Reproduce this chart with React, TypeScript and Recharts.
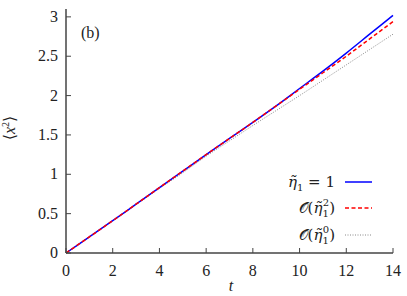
import React from "react";
import { LineChart, Line, XAxis, YAxis, Customized } from "recharts";

const tValues = [0, 1, 2, 3, 4, 5, 6, 7, 8, 9, 10, 11, 12, 13, 14];
const exactSeries = [0, 0.205, 0.41, 0.62, 0.83, 1.04, 1.25, 1.455, 1.66, 1.87, 2.09, 2.31, 2.54, 2.78, 3.02];
const secondOrderSeries = [0, 0.205, 0.41, 0.62, 0.83, 1.04, 1.25, 1.455, 1.66, 1.87, 2.08, 2.29, 2.5, 2.72, 2.94];
const zerothOrderSeries = [0, 0.205, 0.41, 0.615, 0.82, 1.02, 1.23, 1.425, 1.62, 1.81, 2.0, 2.195, 2.39, 2.585, 2.78];
const xTicks = [0, 2, 4, 6, 8, 10, 12, 14];
const yTicks = [0, 0.5, 1, 1.5, 2, 2.5, 3];

const data = tValues.map((t, i) => ({
  t,
  exact: exactSeries[i],
  second: secondOrderSeries[i],
  zeroth: zerothOrderSeries[i],
}));

const FONT = "'DejaVu Serif', 'Liberation Serif', serif";
const TFONT = "'Liberation Serif', 'DejaVu Serif', serif";
const FRAME = "#444";
const TXT = "#222";
const TL = 5;

const renderBottomTick = (p: any) => (
  <g key={`b${p.payload.value}`}>
    <line x1={p.x} x2={p.x} y1={p.y} y2={p.y - TL} stroke={FRAME} strokeWidth={1} />
    <text x={p.x} y={p.y + 23} textAnchor="middle" fontFamily={TFONT} fontSize={16} style={{ fontFamily: TFONT, fontSize: 16 }} fill={TXT}>
      {String(p.payload.value)}
    </text>
  </g>
);
const renderTopTick = (p: any) => (
  <line key={`t${p.payload.value}`} x1={p.x} x2={p.x} y1={p.y} y2={p.y + TL} stroke={FRAME} strokeWidth={1} />
);
const renderLeftTick = (p: any) => (
  <g key={`l${p.payload.value}`}>
    <line x1={p.x} x2={p.x + TL} y1={p.y} y2={p.y} stroke={FRAME} strokeWidth={1} />
    <text x={p.x - 8} y={p.y + 5} textAnchor="end" fontFamily={TFONT} fontSize={16} style={{ fontFamily: TFONT, fontSize: 16 }} fill={TXT}>
      {String(p.payload.value)}
    </text>
  </g>
);
const renderRightTick = (p: any) => (
  <line key={`r${p.payload.value}`} x1={p.x} x2={p.x - TL} y1={p.y} y2={p.y} stroke={FRAME} strokeWidth={1} />
);

const Eta = ({ sup }: { sup?: string }) => (
  <>
    <tspan fontStyle="italic">η̃</tspan>
    <tspan style={{ fontSize: 10 }} dy={4}>1</tspan>
    {sup ? (
      <tspan style={{ fontSize: 10 }} dx={-6} dy={-11}>{sup}</tspan>
    ) : null}
  </>
);

const Overlay = () => {
  const tx = 335;
  const lx1 = 345;
  const lx2 = 372;
  const rows = [182, 208, 235];
  const base = { fontFamily: TFONT, fontSize: 16 };
  return (
    <g fill={TXT}>
      <text x={81} y={38} style={base}>(b)</text>
      <text x={231} y={291} style={{ ...base, fontStyle: "italic" }} textAnchor="middle">t</text>
      <text transform="translate(15,128) rotate(-90)" style={base} textAnchor="middle">
        ⟨<tspan fontStyle="italic">x</tspan>
        <tspan style={{ fontSize: 10 }} dy={-6}>2</tspan>
        <tspan dy={6}>⟩</tspan>
      </text>
      <text x={tx} y={rows[0] + 5} style={{ fontFamily: FONT, fontSize: 15 }} textAnchor="end">
        <Eta />
        <tspan dy={-4}> = 1</tspan>
      </text>
      <text x={tx} y={rows[1] + 5} style={{ fontFamily: FONT, fontSize: 15 }} textAnchor="end">
        𝒪(<Eta sup="2" />
        <tspan dy={7}>)</tspan>
      </text>
      <text x={tx} y={rows[2] + 5} style={{ fontFamily: FONT, fontSize: 15 }} textAnchor="end">
        𝒪(<Eta sup="0" />
        <tspan dy={7}>)</tspan>
      </text>
      <line x1={lx1} x2={lx2} y1={rows[0]} y2={rows[0]} stroke="#0000ff" strokeWidth={1.5} />
      <line x1={lx1} x2={lx2} y1={rows[1]} y2={rows[1]} stroke="#ff0000" strokeWidth={1.5} strokeDasharray="4 2.5" />
      <line x1={lx1} x2={lx2} y1={rows[2]} y2={rows[2]} stroke="#888" strokeWidth={1} strokeDasharray="1 1.5" />
    </g>
  );
};

export default function App() {
  return (
    <div style={{ position: "absolute", left: 0, top: 0, width: 407, height: 296, background: "#fff" }}>
      <LineChart width={407} height={296} data={data} margin={{ top: 9, right: 14, left: 0, bottom: 0 }}>
        <XAxis
          dataKey="t"
          type="number"
          domain={[0, 14]}
          ticks={xTicks}
          interval={0}
          height={43}
          tickSize={0}
          tickMargin={0}
          tick={renderBottomTick}
          axisLine={{ stroke: FRAME, strokeWidth: 1.5 }}
          tickLine={false}
        />
        <XAxis
          xAxisId="top"
          orientation="top"
          dataKey="t"
          type="number"
          domain={[0, 14]}
          ticks={xTicks}
          interval={0}
          height={0}
          tickSize={0}
          tickMargin={0}
          tick={renderTopTick}
          axisLine={{ stroke: FRAME, strokeWidth: 1.5 }}
          tickLine={false}
        />
        <YAxis
          type="number"
          domain={[0, 3.1]}
          ticks={yTicks}
          interval={0}
          width={66}
          tickSize={0}
          tickMargin={0}
          tick={renderLeftTick}
          axisLine={{ stroke: FRAME, strokeWidth: 1.5 }}
          tickLine={false}
        />
        <YAxis
          yAxisId="right"
          orientation="right"
          type="number"
          domain={[0, 3.1]}
          ticks={yTicks}
          interval={0}
          width={0}
          tickSize={0}
          tickMargin={0}
          tick={renderRightTick}
          axisLine={{ stroke: FRAME, strokeWidth: 1.5 }}
          tickLine={false}
        />
        <Line dataKey="zeroth" stroke="#888" strokeWidth={1} strokeDasharray="1 1.5" dot={false} isAnimationActive={false} type="monotone" />
        <Line dataKey="exact" stroke="#0000ff" strokeWidth={1.5} dot={false} isAnimationActive={false} type="monotone" />
        <Line dataKey="second" stroke="#ff0000" strokeWidth={1.5} strokeDasharray="4 2.5" dot={false} isAnimationActive={false} type="monotone" />
        <Customized component={Overlay} />
      </LineChart>
    </div>
  );
}
